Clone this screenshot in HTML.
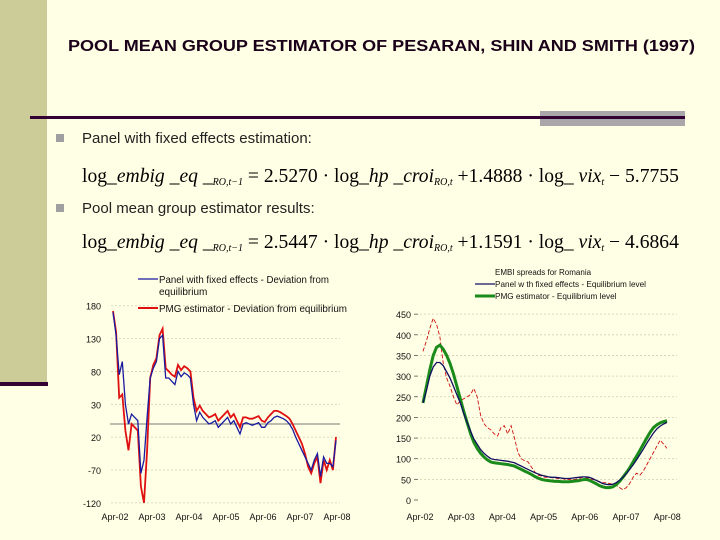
<!DOCTYPE html>
<html><head><meta charset="utf-8"><style>
body{margin:0;width:720px;height:540px;overflow:hidden;background:#ffffe5;font-family:"Liberation Sans",sans-serif;}
svg{display:block}
</style></head><body>
<svg width="720" height="540" xmlns="http://www.w3.org/2000/svg">
<rect x="0" y="0" width="720" height="540" fill="#ffffe5"/>
<rect x="0" y="0" width="47" height="382" fill="#cccc99"/>
<rect x="0" y="382" width="48" height="4" fill="#330033"/>
<text x="68" y="51" font-size="15.5" font-weight="bold" fill="#1a0018" textLength="627" lengthAdjust="spacingAndGlyphs">POOL MEAN GROUP ESTIMATOR OF PESARAN, SHIN AND SMITH (1997)</text>
<rect x="540" y="111" width="145" height="15" fill="#aaa7aa"/>
<rect x="30" y="116" width="655" height="3" fill="#330033"/>
<rect x="56" y="134" width="8" height="8" fill="#a0a0a0"/>
<text x="82" y="143" font-size="15" fill="#222">Panel with fixed effects estimation:</text>
<text x="82" y="182" font-family="Liberation Serif,serif" font-size="19.6" fill="#000">log_<tspan font-style="italic">embig</tspan> _<tspan font-style="italic">eq</tspan> _<tspan font-size="10" font-style="italic" dy="3">RO,t−1</tspan><tspan dy="-3"> = 2.5270 · log_</tspan><tspan font-style="italic">hp</tspan> _<tspan font-style="italic">croi</tspan><tspan font-size="10" font-style="italic" dy="3">RO,t</tspan><tspan dy="-3"> +1.4888 · log_ </tspan><tspan font-style="italic">vix</tspan><tspan font-size="10" font-style="italic" dy="3">t</tspan><tspan dy="-3"> − 5.7755</tspan></text>
<rect x="56" y="204" width="8" height="8" fill="#a0a0a0"/>
<text x="82" y="213" font-size="15" fill="#222">Pool mean group estimator results:</text>
<text x="82" y="248" font-family="Liberation Serif,serif" font-size="19.6" fill="#000">log_<tspan font-style="italic">embig</tspan> _<tspan font-style="italic">eq</tspan> _<tspan font-size="10" font-style="italic" dy="3">RO,t−1</tspan><tspan dy="-3"> = 2.5447 · log_</tspan><tspan font-style="italic">hp</tspan> _<tspan font-style="italic">croi</tspan><tspan font-size="10" font-style="italic" dy="3">RO,t</tspan><tspan dy="-3"> +1.1591 · log_ </tspan><tspan font-style="italic">vix</tspan><tspan font-size="10" font-style="italic" dy="3">t</tspan><tspan dy="-3"> − 4.6864</tspan></text>
<g id="left"></g>
<g id="right"></g>
</svg>
<script>
const leftYTicks=[180,130,80,30,-20,-70,-120];
const leftYLabels=["180","130","80","30","20","-70","-120"];
const xLabels=["Apr-02","Apr-03","Apr-04","Apr-05","Apr-06","Apr-07","Apr-08"];
const panelDev=[170,135,75,95,30,0,15,10,5,-75,-55,10,70,85,95,130,135,70,70,65,60,80,72,78,75,70,30,5,18,10,5,0,2,5,-5,0,5,10,0,5,-5,-15,0,2,0,-2,0,2,-5,-5,2,5,10,12,10,8,5,0,-8,-20,-30,-40,-50,-60,-70,-55,-45,-80,-50,-60,-60,-65,-25];
const pmgDev=[172,140,40,45,-10,-40,0,-5,-10,-95,-120,-40,70,90,100,135,145,85,80,75,72,90,82,88,85,80,40,20,28,20,15,10,12,15,5,10,15,20,10,15,5,-5,10,10,8,8,10,12,5,3,10,15,20,20,18,15,12,8,0,-10,-20,-30,-45,-65,-75,-60,-50,-90,-55,-70,-55,-70,-20];
const rightYTicks=[450,400,350,300,250,200,150,100,50,0];
const embi=[360,385,415,440,425,395,330,295,275,250,230,240,245,250,255,270,250,205,185,175,170,160,155,175,180,160,180,150,115,100,95,92,80,68,60,58,55,55,54,53,52,52,50,50,50,50,52,55,55,52,50,48,45,42,42,40,38,35,30,25,30,40,55,65,60,70,85,100,115,130,145,135,125];
const panelEq=[235,265,300,322,333,333,325,310,295,275,255,235,210,188,168,148,135,122,113,106,100,98,97,96,95,94,92,90,86,82,78,74,70,66,63,60,58,56,55,55,54,53,52,52,53,54,55,56,56,55,52,48,44,40,38,37,38,42,48,55,64,74,85,97,110,123,137,150,162,172,179,184,188];
const pmgEq=[235,275,315,350,370,375,365,350,330,305,275,245,215,188,162,140,125,113,104,97,92,90,89,88,87,86,84,82,78,74,70,66,62,57,53,50,48,47,46,45,45,44,44,44,45,46,47,49,50,48,44,40,35,32,30,30,32,37,45,55,66,78,92,106,120,135,150,164,175,182,187,190,192];

const NS="http://www.w3.org/2000/svg";
function mk(parent,tag,attrs,text){const e=document.createElementNS(NS,tag);for(const k in attrs)e.setAttribute(k,attrs[k]);if(text!==undefined)e.textContent=text;parent.appendChild(e);return e;}
function path(vals,xf,yf){return vals.map((v,i)=>(i?'L':'M')+xf(i).toFixed(1)+' '+yf(v).toFixed(1)).join(' ');}

const L=document.getElementById('left');
const lx=i=>113+i*(223/72);
const ly=v=>424-v*0.657;
leftYTicks.forEach((t,k)=>{
  const y=ly(t);
  const g=mk(L,'line',{x1:111,x2:340,y1:y,y2:y,stroke:'#cfcfb0','stroke-dasharray':'2,2','stroke-width':0.8});
  
  
  const tx=mk(L,'text',{x:101,y:y+4,'text-anchor':'end','font-size':9,fill:'#111'},leftYLabels[k]);
  
  
});
const zl=mk(L,'line',{x1:110,x2:340,y1:ly(0),y2:ly(0),stroke:'#777','stroke-width':1});


xLabels.forEach((s,k)=>{
  const t=mk(L,'text',{x:115+k*37,y:520,'text-anchor':'middle','font-size':9,fill:'#111'},s);
  
  
});
const pr=mk(L,'path',{d:path(pmgDev,lx,ly),fill:'none',stroke:'#e01010','stroke-width':1.8});


const pb=mk(L,'path',{d:path(panelDev,lx,ly),fill:'none',stroke:'#1a1aa0','stroke-width':1.3});


const lg1=mk(L,'line',{x1:138,x2:158,y1:279,y2:279,stroke:'#1a1aa0','stroke-width':1.3});


const lt1=mk(L,'text',{x:159,y:283,'font-size':10,fill:'#111',textLength:170,lengthAdjust:'spacingAndGlyphs'},'Panel with fixed effects - Deviation from');


const lt1b=mk(L,'text',{x:159,y:295,'font-size':10,fill:'#111'},'equilibrium');


const lg2=mk(L,'line',{x1:138,x2:158,y1:308,y2:308,stroke:'#e01010','stroke-width':2});


const lt2=mk(L,'text',{x:159,y:312,'font-size':10,fill:'#111',textLength:188,lengthAdjust:'spacingAndGlyphs'},'PMG estimator -  Deviation from equilibrium');



const R=document.getElementById('right');
const rx=i=>423+i*(244/72);
const ry=v=>500-v*0.413;
rightYTicks.forEach(t=>{
  const y=ry(t);
  if(t>0){const g=mk(R,'line',{x1:420,x2:677,y1:y,y2:y,stroke:'#cfcfb0','stroke-dasharray':'2,2','stroke-width':0.8});
  
  }
  const tx=mk(R,'text',{x:411,y:y+4,'text-anchor':'end','font-size':9,fill:'#111'},String(t));
  
  
  const tk=mk(R,'line',{x1:414,x2:418,y1:y,y2:y,stroke:'#555','stroke-width':0.8});
  
  
});
xLabels.forEach((s,k)=>{
  const t=mk(R,'text',{x:420+k*41.2,y:520,'text-anchor':'middle','font-size':9,fill:'#111'},s);
  
  
});
const re=mk(R,'path',{d:path(embi,rx,ry),fill:'none',stroke:'#d01010','stroke-width':0.9,'stroke-dasharray':'4,2'});


const rg=mk(R,'path',{d:path(pmgEq,rx,ry),fill:'none',stroke:'#1a8a1a','stroke-width':3});


const rb=mk(R,'path',{d:path(panelEq,rx,ry),fill:'none',stroke:'#101060','stroke-width':1.3});


const rt0=mk(R,'text',{x:495,y:275,'font-size':8,fill:'#111'},'EMBI spreads for Romania');


const rs1=mk(R,'line',{x1:475,x2:495,y1:284,y2:284,stroke:'#101060','stroke-width':1.3});


const rt1=mk(R,'text',{x:495,y:287,'font-size':8.2,fill:'#111',textLength:151,lengthAdjust:'spacingAndGlyphs'},'Panel w th fixed effects - Equilibrium level');


const rs2=mk(R,'line',{x1:475,x2:495,y1:296,y2:296,stroke:'#1a8a1a','stroke-width':3});


const rt2=mk(R,'text',{x:495,y:299,'font-size':8.2,fill:'#111'},'PMG estimator - Equilibrium level');


</script>
</body></html>
